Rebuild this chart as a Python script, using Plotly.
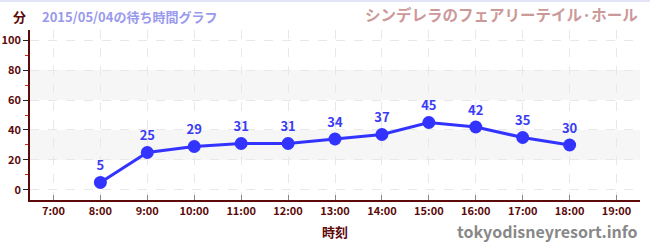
import plotly.graph_objects as go

hours = [8, 9, 10, 11, 12, 13, 14, 15, 16, 17, 18]
waits = [5, 25, 29, 31, 31, 34, 37, 45, 42, 35, 30]
tick_vals = list(range(7, 20))
tick_text = [f"{h}:00" for h in tick_vals]
y_ticks = [0, 20, 40, 60, 80, 100]
bands = [(20, 40), (60, 80)]

FONT = "Noto Sans CJK JP"
DARK = "#5c0a0a"

fig = go.Figure()
fig.add_trace(go.Scatter(
    x=hours, y=waits, mode="lines+markers+text",
    text=[str(v) for v in waits], textposition="top center",
    textfont=dict(family=FONT, size=13, color="#3b3bf5", weight="bold"),
    line=dict(color="#3333ff", width=3),
    marker=dict(color="#3333ff", size=13),
    cliponaxis=False, hoverinfo="skip",
))
for a, b in bands:
    fig.add_shape(type="rect", xref="paper", yref="y", x0=0, x1=1, y0=a, y1=b,
                  fillcolor="#f6f6f6", line_width=0, layer="below")
fig.add_shape(type="line", xref="paper", yref="paper", x0=-0.06, x1=1.02, y0=1.17, y1=1.17,
              line=dict(color="#e4e4f8", width=2))

fig.update_layout(
    width=650, height=250,
    margin=dict(l=30, r=10, t=30, b=50),
    paper_bgcolor="white", plot_bgcolor="white",
    showlegend=False,
    font=dict(family=FONT, color=DARK),
    xaxis=dict(
        range=[6.5, 19.5], tickvals=tick_vals, ticktext=tick_text,
        showline=True, linecolor=DARK, linewidth=1.5,
        ticks="inside", ticklen=5, tickcolor="#888888",
        showgrid=True, gridcolor="#e8e8e8", griddash="dash",
        tickfont=dict(family=FONT, size=11, color=DARK, weight="bold"),
        zeroline=False, fixedrange=True, automargin=False,
    ),
    yaxis=dict(
        range=[-6.7, 106.7], tickvals=y_ticks,
        showline=True, linecolor=DARK, linewidth=1.5,
        ticks="outside", ticklen=5, tickcolor="#222222",
        showgrid=True, gridcolor="#e8e8e8", griddash="dash",
        tickfont=dict(family=FONT, size=11, color=DARK, weight="bold"),
        zeroline=False, fixedrange=True, automargin=False,
        minor=dict(tickvals=[10, 30, 50, 70, 90], ticks="outside", ticklen=3,
                   tickcolor="#dd2222", showgrid=False),
    ),
    annotations=[
        dict(text="分", xref="paper", yref="paper", x=-0.004, y=1.0, yshift=14,
             xanchor="right", yanchor="middle", showarrow=False,
             font=dict(family=FONT, size=13, color=DARK, weight="bold")),
        dict(text="2015/05/04の待ち時間グラフ", xref="paper", yref="paper", x=0.016, y=1.0, yshift=14,
             xanchor="left", yanchor="middle", showarrow=False,
             font=dict(family=FONT, size=13, color="#9999ee", weight="bold")),
        dict(text="シンデレラのフェアリーテイル·ホール", xref="paper", yref="paper", x=1.0, y=1.0, yshift=16,
             xanchor="right", yanchor="middle", showarrow=False,
             font=dict(family=FONT, size=15.5, color="#cc9999", weight="bold")),
        dict(text="時刻", xref="paper", yref="paper", x=0.5, y=0, yshift=-31,
             xanchor="center", yanchor="middle", showarrow=False,
             font=dict(family=FONT, size=13, color=DARK, weight="bold")),
        dict(text="tokyodisneyresort.info", xref="paper", yref="paper", x=1.0, y=0, yshift=-31,
             xanchor="right", yanchor="middle", showarrow=False,
             font=dict(family=FONT, size=16, color="#888888", weight="bold")),
    ],
)
fig.write_html("out.html")
